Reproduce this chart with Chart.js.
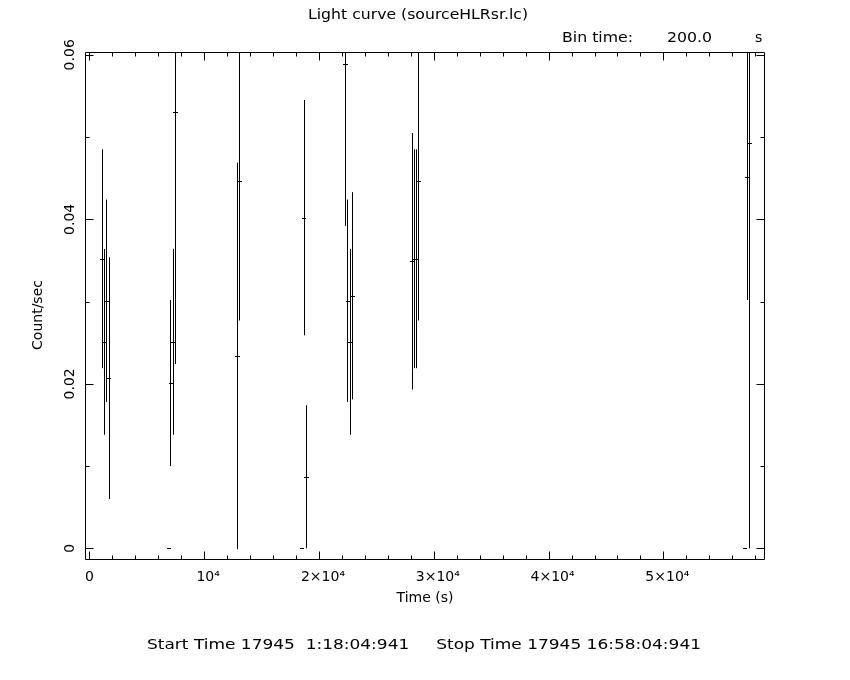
<!DOCTYPE html>
<html>
<head>
<meta charset="utf-8">
<script src="https://cdn.jsdelivr.net/npm/chart.js@4/dist/chart.umd.min.js"></script>
<style>
  html, body { margin: 0; padding: 0; background: #fff; }
  #wrap { width: 850px; height: 680px; }
</style>
</head>
<body>
<div id="wrap"><canvas id="lc"></canvas></div>
<script>
// bin centres (s), rates (count/sec) and 1-sigma errors
const times  = [1067, 1267, 1467, 1667, 6867, 7067, 7267, 7467, 12867, 13067, 18467, 18667, 18867,
                22267, 22467, 22667, 22867, 28067, 28267, 28467, 28667, 57067, 57267, 57467];
const rates  = [0.0352, 0.0251, 0.0301, 0.0207, 0, 0.0201, 0.0251, 0.0530, 0.0234, 0.0446, 0, 0.0402, 0.0087,
                0.0589, 0.0301, 0.0251, 0.0307, 0.0349, 0.0352, 0.0352, 0.0446, 0, 0.0452, 0.0493];
const errors = [0.0133, 0.0113, 0.0123, 0.0147, 0, 0.0101, 0.0113, 0.0306, 0.0235, 0.0169, 0, 0.0143, 0.0087,
                0.0197, 0.0123, 0.0113, 0.0126, 0.0156, 0.0133, 0.0133, 0.0169, 0, 0.0150, 0.0493];
const binTime = 200.0;

const xTickValues = [0, 10000, 20000, 30000, 40000, 50000];
const xTickLabels = ['0', '10\u2074', '2\u00d710\u2074', '3\u00d710\u2074', '4\u00d710\u2074', '5\u00d710\u2074'];
const xMinorStep = 2000;
const yTickValues = [0, 0.02, 0.04, 0.06];
const yTickLabels = ['0', '0.02', '0.04', '0.06'];
const yMinorStep = 0.01;

const titleText = 'Light curve (sourceHLRsr.lc)';
const binText = ['Bin time:', '200.0', 's'];
const footText = 'Start Time 17945  1:18:04:941     Stop Time 17945 16:58:04:941';

const FONT = '"DejaVu Sans", sans-serif';

// squeeze/stretch a string so it covers a given width (the old plot font is wide)
function fitText(ctx, text, x, y, width) {
    const w = ctx.measureText(text).width;
    ctx.save();
    ctx.translate(x, y);
    ctx.scale(width / w, 1);
    ctx.textAlign = 'left';
    ctx.fillText(text, 0, 0);
    ctx.restore();
}

// error bars: vertical = +-error, horizontal = bin width
const errorBars = {
    id: 'errorBars',
    afterDatasetsDraw(chart) {
        const ctx = chart.ctx;
        const xs = chart.scales.x, ys = chart.scales.y;
        const a = chart.chartArea;
        ctx.save();
        ctx.beginPath();
        ctx.rect(a.left, a.top, a.right - a.left, a.bottom - a.top);
        ctx.clip();
        ctx.strokeStyle = '#000';
        ctx.lineWidth = 1;
        times.forEach((t, i) => {
            const px = Math.round(xs.getPixelForValue(t)) + 0.5;
            const py = Math.round(ys.getPixelForValue(rates[i])) + 0.5;
            const x0 = xs.getPixelForValue(t - binTime / 2);
            const x1 = xs.getPixelForValue(t + binTime / 2);
            ctx.beginPath();
            ctx.moveTo(Math.floor(x0), py);
            ctx.lineTo(Math.ceil(x1) + 1, py);
            if (errors[i] > 0) {
                ctx.moveTo(px, ys.getPixelForValue(rates[i] + errors[i]));
                ctx.lineTo(px, ys.getPixelForValue(rates[i] - errors[i]));
            }
            ctx.stroke();
        });
        ctx.restore();
    }
};

// PGPLOT style box: frame, inward ticks on all sides, labels and captions
const frameBox = {
    id: 'frameBox',
    afterDraw(chart) {
        const ctx = chart.ctx;
        const xs = chart.scales.x, ys = chart.scales.y;
        const a = chart.chartArea;
        const L = a.left + 0.5, R = a.right - 0.5, T = a.top + 0.5, B = a.bottom - 0.5;
        ctx.save();
        ctx.strokeStyle = '#000';
        ctx.lineWidth = 1;
        ctx.beginPath();
        ctx.rect(L, T, R - L, B - T);
        // x ticks
        for (let v = 0; v <= xs.max; v += xMinorStep) {
            const px = Math.round(xs.getPixelForValue(v)) + 0.5;
            const len = (v % 10000 === 0) ? 8 : 4;
            ctx.moveTo(px, B); ctx.lineTo(px, B - len);
            ctx.moveTo(px, T); ctx.lineTo(px, T + len);
        }
        // y ticks
        for (let k = 0; k * yMinorStep <= ys.max + 1e-9; k++) {
            const v = k * yMinorStep;
            const py = Math.round(ys.getPixelForValue(v)) + 0.5;
            const len = (k % 2 === 0) ? 8 : 4;
            ctx.moveTo(L, py); ctx.lineTo(L + len, py);
            ctx.moveTo(R, py); ctx.lineTo(R - len, py);
        }
        ctx.stroke();

        ctx.fillStyle = '#000';
        ctx.font = '14px ' + FONT;
        ctx.textBaseline = 'middle';
        ctx.textAlign = 'center';
        xTickValues.forEach((v, i) => {
            ctx.fillText(xTickLabels[i], xs.getPixelForValue(v) + (i ? 4 : 0), a.bottom + 17);
        });
        yTickValues.forEach((v, i) => {
            ctx.save();
            ctx.translate(a.left - 15, ys.getPixelForValue(v));
            ctx.rotate(-Math.PI / 2);
            ctx.fillText(yTickLabels[i], 0, 0);
            ctx.restore();
        });
        ctx.fillText('Time (s)', (a.left + a.right) / 2, a.bottom + 38);
        ctx.save();
        ctx.translate(38, 315);
        ctx.rotate(-Math.PI / 2);
        ctx.fillText('Count/sec', 0, 0);
        ctx.restore();

        fitText(ctx, titleText, 308, 15, 220);
        fitText(ctx, binText[0], 562, 38, 71);
        fitText(ctx, binText[1], 667, 38, 45);
        ctx.textAlign = 'left';
        ctx.fillText(binText[2], 755, 38);
        fitText(ctx, footText, 147, 645, 554);
        ctx.restore();
    }
};

new Chart(document.getElementById('lc'), {
    type: 'scatter',
    data: {
        datasets: [{
            label: 'rate',
            data: times.map((t, i) => ({ x: t, y: rates[i] })),
            pointRadius: 0,
            showLine: false
        }]
    },
    options: {
        responsive: true,
        maintainAspectRatio: false,
        animation: false,
        layout: { padding: { left: 85, right: 85, top: 52, bottom: 120 } },
        plugins: { legend: { display: false }, tooltip: { enabled: false }, title: { display: false } },
        scales: {
            x: { type: 'linear', min: -380, max: 58850, display: false },
            y: { type: 'linear', min: -0.00142, max: 0.06034, display: false }
        }
    },
    plugins: [errorBars, frameBox]
});
</script>
</body>
</html>
